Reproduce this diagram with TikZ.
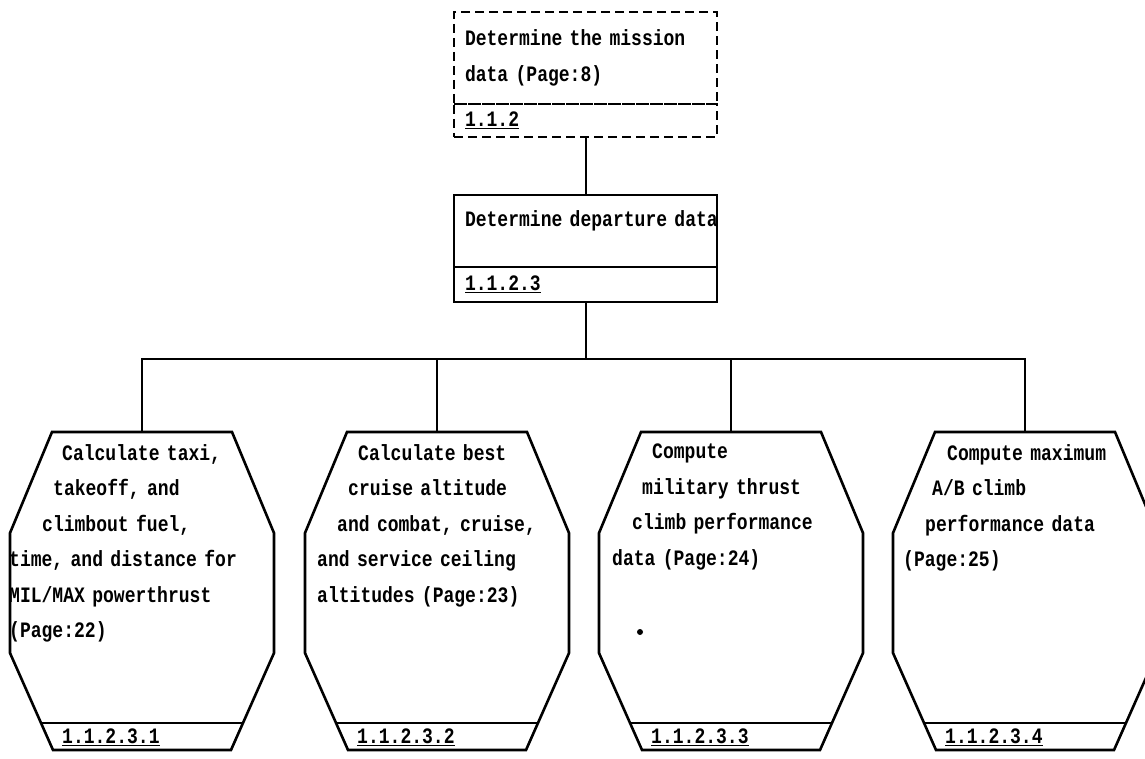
\documentclass[tikz,border=0pt]{standalone}
\usepackage{fontspec}
\newfontfamily\plotfont[FakeStretch=0.82]{Liberation Mono}
\usetikzlibrary{positioning}

% octagon shape: name, centre x
\newcommand{\octagon}[2]{%
  \coordinate (#1) at (#2,432);
  \draw [octline] (#2-90,432) -- (#2+90,432) -- (#2+132,533) -- (#2+132,653)
    -- (#2+89,750) -- (#2-89,750) -- (#2-132,653) -- (#2-132,533) -- cycle;
  \draw [octline] (#2-101,723) -- (#2+101,723);
}

\begin{document}
\begin{tikzpicture}
[
    x=1pt,y=-1pt,
    every node/.style={font=\plotfont\bfseries\fontsize{22}{35.5}\selectfont},
    box/.style={rectangle,draw,line width=2.6pt,outer sep=0pt,minimum width=263pt,inner xsep=11pt,inner ysep=0pt,text width=241pt,align=left},
    topbox/.style={box,dashed,dash pattern=on 9pt off 5pt,minimum height=92pt,anchor=north west},
    topnum/.style={box,dashed,dash pattern=on 9pt off 5pt,minimum height=33pt},
    deptbox/.style={box,minimum height=72pt,anchor=north west,text height=15pt,text depth=23pt},
    deptnum/.style={box,minimum height=35pt},
    octline/.style={line width=2.6pt,line join=miter},
    octtext/.style={anchor=north west,inner sep=0pt,text width=280pt,align=left},
    octnum/.style={anchor=west,inner sep=0pt},
    link/.style={line width=2pt}
]
\useasboundingbox (0,0) rectangle (1145,759);

\node (mission) at (454,12) [topbox] {Determine the mission\\data (Page:8)};
\node (missionnum) [topnum,below=0pt of mission] {\underline{1.1.2}};

\node (dept) at (454,195) [deptbox] {\makebox[241pt][l]{Determine departure data}};
\node (deptnum) [deptnum,below=0pt of dept] {\underline{1.1.2.3}};

\octagon{taxi}{142}
\octagon{cruise}{437}
\octagon{mil}{731}
\octagon{ab}{1025}

\node (taxitext) at (9,444) [octtext] {\hspace*{53pt}Calculate taxi,\\\hspace*{44pt}takeoff, and\\\hspace*{33pt}climbout fuel,\\time, and distance for\\MIL/MAX powerthrust\\(Page:22)};
\node (cruisetext) at (317,444) [octtext] {\hspace*{41pt}Calculate best\\\hspace*{31pt}cruise altitude\\\hspace*{20pt}and combat, cruise,\\and service ceiling\\altitudes (Page:23)};
\node (miltext) at (612,444) [octtext] {\hspace*{40pt}Compute\\\hspace*{30pt}military thrust\\\hspace*{20pt}climb performance\\data (Page:24)};
\node (abtext) at (903,444) [octtext] {\hspace*{44pt}Compute maximum\\\hspace*{29pt}A/B climb\\\hspace*{22pt}performance data\\(Page:25)};

\node (taxinum) at (62,737) [octnum] {\underline{1.1.2.3.1}};
\node (cruisenum) at (357,737) [octnum] {\underline{1.1.2.3.2}};
\node (milnum) at (651,737) [octnum] {\underline{1.1.2.3.3}};
\node (abnum) at (945,737) [octnum] {\underline{1.1.2.3.4}};

\coordinate (bus) at (585.5,359);
\draw [link] (missionnum.south) -- (dept.north);
\draw [link] (deptnum.south) -- (bus);
\draw [link] (taxi) -- (taxi |- bus) -| (ab);
\draw [link] (cruise) -- (cruise |- bus);
\draw [link] (mil) -- (mil |- bus);

\fill (640,632) circle (3pt);
\end{tikzpicture}
\end{document}
